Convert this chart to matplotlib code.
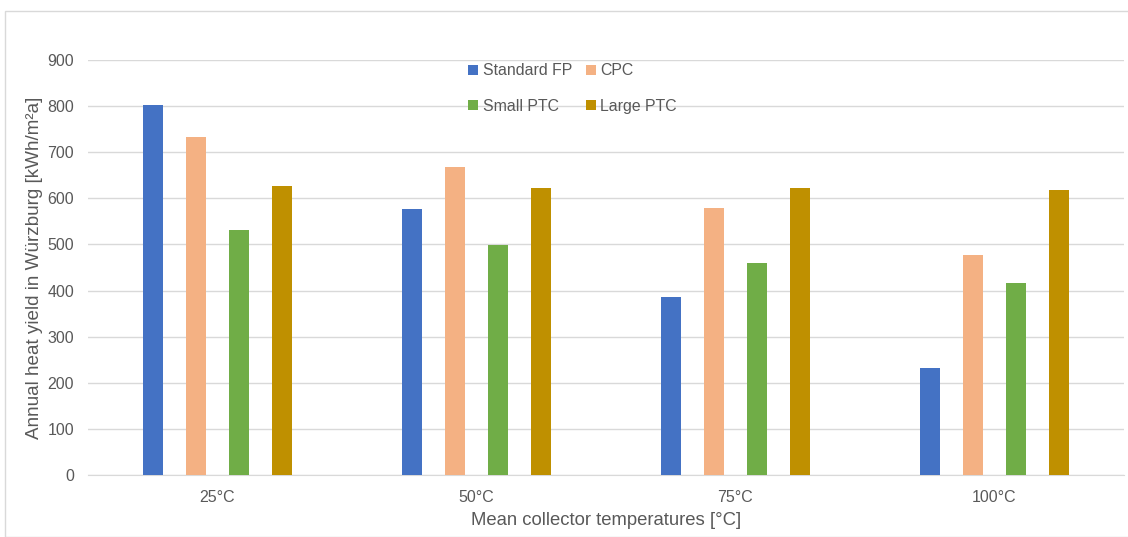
import matplotlib
matplotlib.use("Agg")
import matplotlib.pyplot as plt
import numpy as np
from matplotlib.patches import Rectangle

categories = ["25°C", "50°C", "75°C", "100°C"]
series_names = ["Standard FP", "CPC", "Small PTC", "Large PTC"]
standard_fp = [802, 577, 386, 232]
cpc = [733, 668, 579, 477]
small_ptc = [531, 499, 460, 416]
large_ptc = [627, 623, 622, 618]
colors = ["#4472C4", "#F4B183", "#70AD47", "#BF9000"]

plt.rcParams['font.family'] = ['Liberation Sans', 'DejaVu Sans']
text_color = "#595959"

fig = plt.figure(figsize=(11.28, 5.37), dpi=100)
ax = fig.add_axes([88/1128, 1-475/537, (1124-88)/1128, (475-60)/537])

x = np.arange(len(categories))
offsets = [-0.249, -0.083, 0.083, 0.249]
width = 0.081
bars = []
for vals, name, c, off in zip([standard_fp, cpc, small_ptc, large_ptc], series_names, colors, offsets):
    bars.append(ax.bar(x + off, vals, width, color=c, label=name, zorder=3))

ax.set_xlim(-0.5, len(categories) - 0.5)
ax.set_ylim(0, 900)
ax.set_yticks(range(0, 901, 100))
ax.set_xticks(x)
ax.set_xticklabels(categories)
ax.grid(axis='y', color='#D9D9D9', linewidth=1, zorder=0)
for s in ['top', 'right', 'left']:
    ax.spines[s].set_visible(False)
ax.spines['bottom'].set_color('#D9D9D9')
ax.tick_params(axis='both', length=0, colors=text_color, labelsize=11.5)
ax.tick_params(axis='x', pad=11)
ax.tick_params(axis='y', pad=10)
ax.set_ylabel("Annual heat yield in Würzburg [kWh/m²a]", fontsize=13.6, color=text_color, labelpad=3)
ax.set_xlabel("Mean collector temperatures [°C]", fontsize=13.3, color=text_color, labelpad=5)

order = [0, 2, 1, 3]
leg = ax.legend([bars[i] for i in order], [series_names[i] for i in order],
                ncol=2, loc='upper left', bbox_to_anchor=(462/1128, 1-57/537), bbox_transform=fig.transFigure,
                frameon=False, fontsize=11.4, handlelength=0.6, handleheight=0.6, handletextpad=0.3,
                columnspacing=0.9, labelspacing=1.3, borderaxespad=0)
for t in leg.get_texts():
    t.set_color(text_color)

fig.patches.append(Rectangle((5/1128, 0), 1.2, 1-11/537, transform=fig.transFigure,
                             fill=False, edgecolor='#D9D9D9', linewidth=1))

fig.savefig("out.png", dpi=100)
